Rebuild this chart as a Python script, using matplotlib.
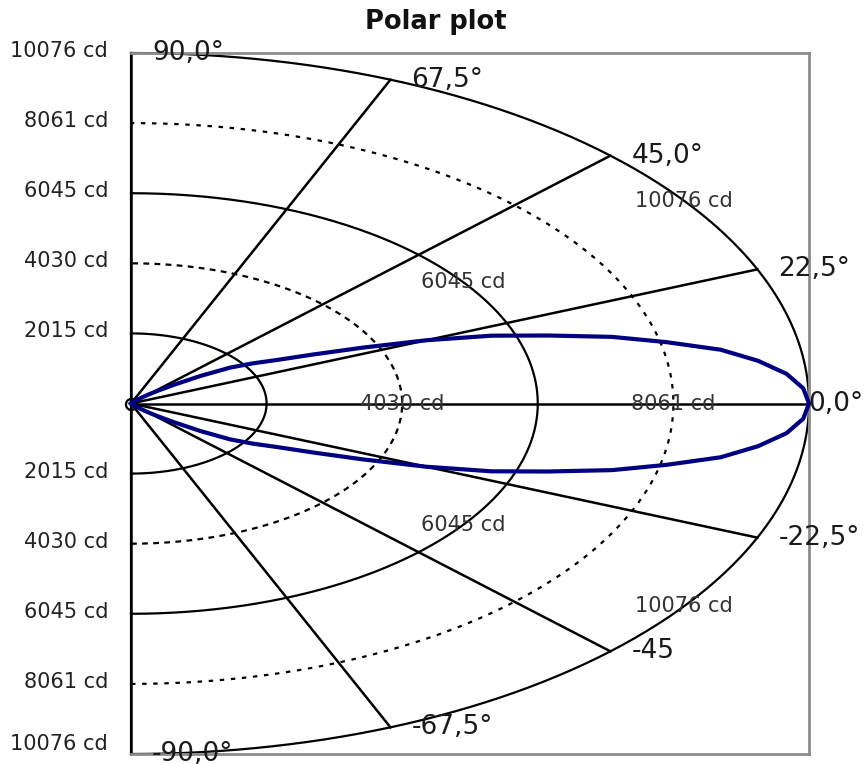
import numpy as np
import matplotlib
matplotlib.use("Agg")
import matplotlib.pyplot as plt

plt.rcParams['font.family'] = ['DejaVu Sans']

# Luminous intensity distribution (symmetric about 0 deg)
beam_angles = [0, 2.5, 5, 7.5, 10, 12.5, 15, 17.5, 20, 22.5, 25, 27.5, 30,
               32.5, 35, 37.5, 40, 42.5, 45, 47.5, 50, 55, 60, 70, 80, 90]
beam_cd = [10076, 10000, 9780, 9400, 8900, 8150, 7400, 6500, 5700, 4750, 3800, 3050, 2500,
           2150, 1800, 1300, 850, 550, 350, 200, 100, 0, 0, 0, 0, 0]

ring_values = [2015, 4030, 6045, 8061, 10076]
ring_styles = ['solid', (0, (2.6, 2.4)), 'solid', (0, (2.0, 3.0)), 'solid']
ring_side_labels = ["2015 cd", "4030 cd", "6045 cd", "8061 cd", "10076 cd"]

spoke_angles = [-90, -67.5, -45, -22.5, 0, 22.5, 45, 67.5, 90]
spoke_labels = ["-90,0°", "-67,5°", "-45", "-22,5°", "0,0°", "22,5°", "45,0°", "67,5°", "90,0°"]

r_max = ring_values[-1]

fig = plt.figure(figsize=(8.64, 7.64), dpi=100)
ax = fig.add_axes([131 / 864, 1 - 754 / 764, (809 - 131) / 864, (754 - 53) / 764])
ax.set_xlim(0, r_max)
ax.set_ylim(-r_max, r_max)
ax.set_xticks([])
ax.set_yticks([])
for side in ['top', 'right', 'bottom']:
    ax.spines[side].set_color('#8c8c8c')
    ax.spines[side].set_linewidth(2.0)
ax.spines['left'].set_color('black')
ax.spines['left'].set_linewidth(1.6)

# rings
t = np.radians(np.linspace(-90, 90, 361))
for r, ls in zip(ring_values, ring_styles):
    ax.plot(r * np.cos(t), r * np.sin(t), color='black', lw=1.6, ls=ls,
            clip_on=False, zorder=2)

# spokes
for a in spoke_angles:
    ar = np.radians(a)
    ax.plot([0, r_max * np.cos(ar)], [0, r_max * np.sin(ar)], color='black',
            lw=1.8, clip_on=False, zorder=2)

# spoke labels
for a, lab in zip(spoke_angles, spoke_labels):
    ar = np.radians(a)
    dx = -1 if a == 0 else 21
    ax.annotate(lab, (r_max * np.cos(ar), r_max * np.sin(ar)),
                xytext=(dx, 0), textcoords='offset pixels',
                ha='left', va='center', fontsize=19, color='#1a1a1a',
                annotation_clip=False, zorder=4)

# ring labels on the left side
for r, lab in zip(ring_values, ring_side_labels):
    for sgn in (1, -1):
        dy = 2
        if sgn < 0 and r == r_max:
            dy = 10
        ax.annotate(lab, (0, sgn * r), xytext=(-23, dy), textcoords='offset pixels',
                    ha='right', va='center', fontsize=15, color='#222222',
                    annotation_clip=False)

# ring labels inside the plot
ax.text(ring_values[1], 0, ring_side_labels[1], ha='center', va='center',
        fontsize=15, color='#333333', zorder=4)
ax.text(ring_values[3], 0, ring_side_labels[3], ha='center', va='center',
        fontsize=15, color='#333333', zorder=4)
for r, lab in ((ring_values[2], ring_side_labels[2]), (ring_values[4], ring_side_labels[4])):
    for sgn in (1, -1):
        ar = np.radians(35.3 * sgn)
        ax.text(r * np.cos(ar), r * np.sin(ar), lab, ha='center', va='center',
                fontsize=15, color='#333333', zorder=4)

# intensity curve
ang = np.array(beam_angles, dtype=float)
cd = np.array(beam_cd, dtype=float)
full_ang = np.concatenate([-ang[::-1], ang[1:]])
full_cd = np.concatenate([cd[::-1], cd[1:]])
ar = np.radians(full_ang)
ax.plot(full_cd * np.cos(ar), full_cd * np.sin(ar), color='#000080', lw=3.0,
        solid_joinstyle='round', clip_on=False, zorder=3)

# origin marker
ax.plot([0], [0], marker='o', ms=8, mfc='white', mec='black', mew=1.6,
        clip_on=False, zorder=1.5)

fig.text(436 / 864, 1 - 22 / 764, "Polar plot", ha='center', va='center',
         fontsize=18.5, fontweight='bold', color='#111111')

fig.savefig("out.png", dpi=100)
